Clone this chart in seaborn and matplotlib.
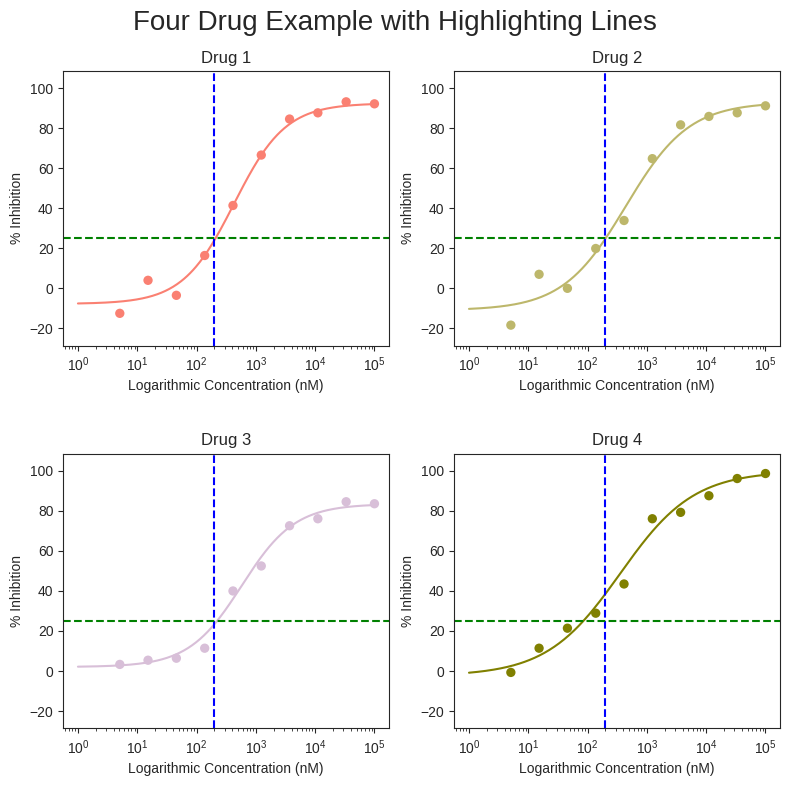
import numpy as np
import pandas as pd
import matplotlib
matplotlib.use("Agg")
import matplotlib.pyplot as plt
import seaborn as sns

# ---- data ----
concentrations_nM = [5.08, 15.2, 45.7, 137.2, 411.5, 1234.6, 3703.7, 11111.1, 33333.3, 100000.0]
drug_names = ["Drug 1", "Drug 2", "Drug 3", "Drug 4"]
drug1_inhibition = [-12.5, 4.0, -3.5, 16.4, 41.4, 66.6, 84.6, 87.7, 93.2, 92.2]
drug2_inhibition = [-18.4, 7.0, 0.0, 19.9, 33.9, 64.8, 81.7, 85.9, 87.7, 91.2]
drug3_inhibition = [3.3, 5.4, 6.4, 11.4, 40.0, 52.5, 72.6, 76.1, 84.6, 83.6]
drug4_inhibition = [-0.7, 11.4, 21.4, 28.9, 43.5, 76.1, 79.3, 87.6, 96.2, 98.7]
# fitted 4-parameter logistic parameters (bottom, top, EC50 nM, hill) estimated from the curves
fit_bottom = [-7.8, -11.0, 2.0, -2.5]
fit_top = [92.5, 93.0, 83.5, 100.0]
fit_ec50 = [430.0, 440.0, 580.0, 355.0]
fit_hill = [1.0, 0.815, 0.97, 0.7]
drug_colors = ["salmon", "darkkhaki", "thistle", "olive"]
highlight_conc = 200
highlight_inhibition = 25
curve_range = (1, 100000)

sns.set_style("ticks")
plt.rcParams["font.family"] = ["Liberation Sans", "DejaVu Sans"]

fig, axes = plt.subplots(2, 2, figsize=(7.89, 7.89), dpi=100)
fig.subplots_adjust(left=0.080, right=0.989, top=0.910, bottom=0.077, wspace=0.199, hspace=0.394)

series = [drug1_inhibition, drug2_inhibition, drug3_inhibition, drug4_inhibition]
xc = np.logspace(np.log10(curve_range[0]), np.log10(curve_range[1]), 300)
for i, ax in enumerate(axes.flat):
    pts = pd.DataFrame({"conc": concentrations_nM, "inh": series[i]})
    yc = fit_bottom[i] + (fit_top[i] - fit_bottom[i]) / (1 + (fit_ec50[i] / xc) ** fit_hill[i])
    curve = pd.DataFrame({"conc": xc, "inh": yc})
    sns.scatterplot(data=pts, x="conc", y="inh", ax=ax, color=drug_colors[i], s=45,
                    edgecolor="none", zorder=3)
    sns.lineplot(data=curve, x="conc", y="inh", ax=ax, color=drug_colors[i], linewidth=1.5)
    ax.set_xscale("log")
    ax.axvline(highlight_conc, color="blue", linestyle="--", linewidth=1.5)
    ax.axhline(highlight_inhibition, color="green", linestyle="--", linewidth=1.5)
    ax.set_ylim(-28.6, 108.6)
    ax.set_yticks([-20, 0, 20, 40, 60, 80, 100])
    ax.set_title(drug_names[i], fontsize=12)
    ax.set_xlabel("Logarithmic Concentration (nM)", fontsize=10)
    ax.set_ylabel("% Inhibition", fontsize=10)
    ax.tick_params(labelsize=10)

fig.suptitle("Four Drug Example with Highlighting Lines", fontsize=20, y=0.987)
fig.savefig("out.png", dpi=100)
